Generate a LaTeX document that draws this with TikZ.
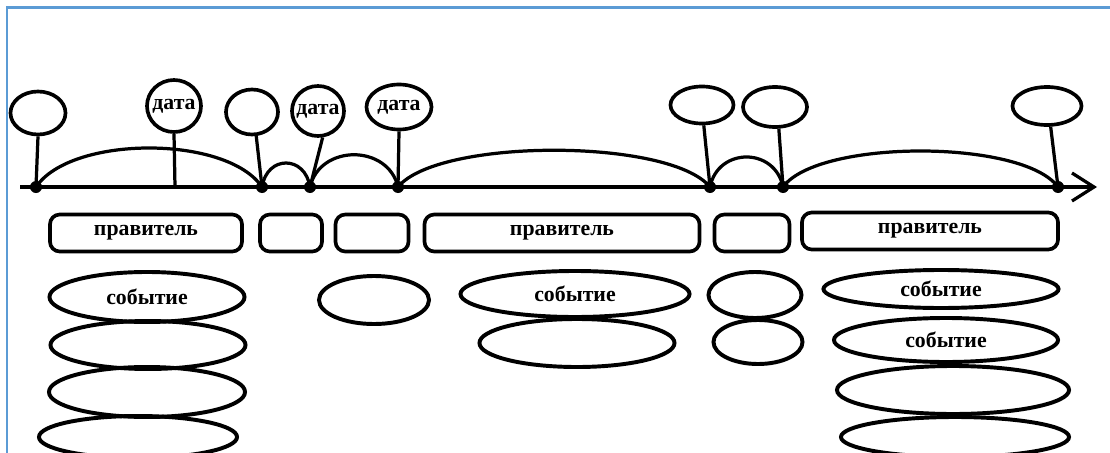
\documentclass[tikz,border=0pt]{standalone}
\usepackage{fontspec}
\setmainfont{Liberation Serif}
\usepackage{tikz}
\usetikzlibrary{shapes.geometric,arrows.meta,positioning}
\definecolor{framecolor}{RGB}{91,155,213}
\tikzset{
  balloon/.style={draw, ellipse, line width=2.6pt, inner sep=0pt},
  periodbox/.style={draw, rounded corners=7pt, line width=2.6pt, minimum height=0.925cm, inner sep=0pt},
  eventell/.style={draw, ellipse, line width=2.8pt, inner sep=0pt},
  axisdot/.style={circle, fill, inner sep=0pt, minimum size=0.3cm},
  lbl/.style={font=\fontsize{15.5}{18}\selectfont\bfseries}
}

\begin{document}
\begin{tikzpicture}[x=0.025cm, y=-0.025cm, line width=2.3pt]
    \useasboundingbox (0,0) rectangle (1110,453);
    % Frame
    \draw[framecolor, line width=1.6pt] (7,453) -- (7,7.5) -- (1110,7.5);

    % Time axis
    \coordinate (start) at (20,187);
    \coordinate (end) at (1097,187);
    \draw[-{Straight Barb[length=0.55cm,width=0.7cm]}] (start) -- (end);

    % Points on the axis
    \node[axisdot] (p1) at (36,187) {};
    \coordinate (t1) at (175,187);
    \node[axisdot] (p2) at (262,187) {};
    \node[axisdot] (p3) at (310,187) {};
    \node[axisdot] (p4) at (398,187) {};
    \node[axisdot] (p5) at (710,187) {};
    \node[axisdot] (p6) at (783,187) {};
    \node[axisdot] (p7) at (1058,187) {};

    % Arcs between the points
    \draw (p1.center) .. controls +(35,-52) and +(-35,-52) .. (p2.center);
    \draw (p2.center) .. controls +(5,-32) and +(-5,-32) .. (p3.center);
    \draw (p3.center) .. controls +(10,-43) and +(-10,-43) .. (p4.center);
    \draw (p4.center) .. controls +(40,-49) and +(-40,-49) .. (p5.center);
    \draw (p5.center) .. controls +(8,-40) and +(-8,-40) .. (p6.center);
    \draw (p6.center) .. controls +(35,-48) and +(-35,-48) .. (p7.center);

    % Dates
    \node[balloon, minimum width=1.375cm, minimum height=1.075cm] (d1) at (38,113) {};
    \node[balloon, minimum width=1.35cm, minimum height=1.3cm, label={[lbl]center:дата}] (d2) at (174,106) {};
    \node[balloon, minimum width=1.3cm, minimum height=1.125cm] (d3) at (252,112) {};
    \node[balloon, minimum width=1.3cm, minimum height=1.25cm, label={[lbl]center:дата}] (d4) at (318,111) {};
    \node[balloon, minimum width=1.625cm, minimum height=1.125cm, label={[lbl]center:дата}] (d5) at (399,107) {};
    \node[balloon, minimum width=1.575cm, minimum height=0.925cm] (d6) at (702,105) {};
    \node[balloon, minimum width=1.6cm, minimum height=1cm] (d7) at (775,107) {};
    \node[balloon, minimum width=1.725cm, minimum height=0.95cm] (d8) at (1047,106) {};

    \draw (d1.south) -- (p1.center);
    \draw (d2.south) -- (t1);
    \draw (d3.-80) -- (p2.center);
    \draw (d4.-80) -- (p3.center);
    \draw (d5.south) -- (p4.center);
    \draw (d6.-85) -- (p5.center);
    \draw (d7.-80) -- (p6.center);
    \draw (d8.-80) -- (p7.center);

    % Rulers
    \node[periodbox, lbl, minimum width=4.8cm] (b1) at (146,233) {правитель};
    \node[periodbox, minimum width=1.55cm] (b2) at (291,233) {};
    \node[periodbox, minimum width=1.825cm] (b3) at (372,233) {};
    \node[periodbox, lbl, minimum width=6.875cm] (b4) at (562,233) {правитель};
    \node[periodbox, minimum width=1.875cm] (b5) at (752,233) {};
    \node[periodbox, lbl, minimum width=6.4cm] (b6) at (930,231) {правитель};

    % Events
    \node[eventell, lbl, minimum width=4.875cm, minimum height=1.25cm] (e11) at (147,297) {событие};
    \node[eventell, minimum width=4.875cm, minimum height=1.2cm] (e12) at (148,345) {};
    \node[eventell, minimum width=4.9cm, minimum height=1.25cm] (e13) at (147,392) {};
    \node[eventell, minimum width=4.95cm, minimum height=1.05cm] (e14) at (138,437) {};

    \node[eventell, minimum width=2.75cm, minimum height=1.2cm] (e31) at (374,300) {};

    \node[eventell, lbl, minimum width=5.725cm, minimum height=1.15cm] (e41) at (575,294) {событие};
    \node[eventell, minimum width=4.875cm, minimum height=1.2cm] (e42) at (577,343) {};

    \node[eventell, minimum width=2.325cm, minimum height=1.15cm] (e51) at (755,295) {};
    \node[eventell, minimum width=2.225cm, minimum height=1.1cm] (e52) at (758,342) {};

    \node[eventell, lbl, minimum width=5.875cm, minimum height=0.95cm] (e61) at (941,289) {событие};
    \node[eventell, lbl, minimum width=5.6cm, minimum height=1.1cm] (e62) at (946,340) {событие};
    \node[eventell, minimum width=5.8cm, minimum height=1.2cm] (e63) at (953,390) {};
    \node[eventell, minimum width=5.7cm, minimum height=1cm] (e64) at (955,437) {};
\end{tikzpicture}
\end{document}
